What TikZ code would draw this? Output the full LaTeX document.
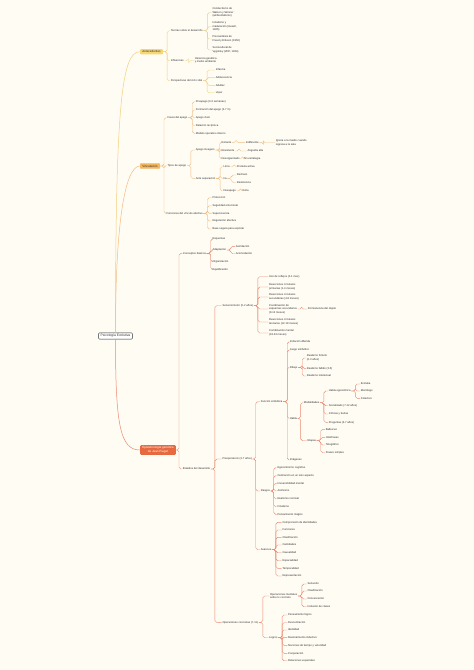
\documentclass[tikz,border=0pt]{standalone}
\usepackage{fontspec}
\setmainfont{Liberation Sans}
\usepackage{tikz}
\usetikzlibrary{arrows.meta}

\definecolor{paper}{HTML}{FFFCF4}
\definecolor{ink}{HTML}{2E2E2E}
\definecolor{sunA}{HTML}{F7D774}
\definecolor{sunL}{HTML}{F2D07C}
\definecolor{ambA}{HTML}{F5B75E}
\definecolor{ambL}{HTML}{F2BC82}
\definecolor{redA}{HTML}{E6693F}
\definecolor{redL}{HTML}{EC8A70}

\tikzset{
  twig/.style={rounded corners=1.8pt, to path={-- ++(#1,0) |- (\tikztotarget)}},
  twig/.default=4pt,
  leaf/.style={anchor=west, inner sep=0.6pt, align=left, text=ink,
               font=\fontsize{2.7}{3.5}\selectfont},
  topic/.style={rounded corners=1pt, inner xsep=2.2pt, inner ysep=1.6pt,
                align=center, text=ink, font=\fontsize{3}{3.7}\selectfont},
}

\begin{document}
\begin{tikzpicture}[x=1pt,y=-1pt]
		\fill[paper] (0,0) rectangle (474,670);
		\useasboundingbox (0,0) rectangle (474,670);

		% centre and main topics
		\node[topic, draw=ink, fill=white, line width=0.5pt,
		      font=\fontsize{3.3}{4}\selectfont] (root) at (115.5,336) {Psicología Evolutiva};
		\node[topic, fill=sunA] (ant) at (151.5,51.7) {Antecedentes};
		\node[topic, fill=ambA, draw=ambL, line width=0.3pt] (vin) at (150,166) {Vinculación};
		\node[topic, fill=redA, text=white] (epi) at (158,450) {Epistemología genética\\de Jean Piaget};

		\draw[sunL, line width=0.5pt] (root.north) .. controls +(0,-230) and +(-18,0) .. (ant.west);
		\draw[ambL, line width=0.5pt] (root.north) .. controls +(0,-110) and +(-15,0) .. (vin.west);
		\draw[redL, line width=0.5pt] (root.south) .. controls +(0,85) and +(-20,0) .. (epi.west);

		% antecedentes
		\begin{scope}[every node/.style={leaf},
		              every edge/.style={draw=sunL, line width=0.4pt, twig}]
		    \node (a1) at (170,30.7) {Teorías sobre el desarrollo};
		    \node (a1x1) at (211.7,12.5) {Conductismo de\\Watson y Skinner\\(ambientalismo)};
		    \node (a1x2) at (211.7,26.5) {Innatismo y\\maduración (Gesell,\\1925)};
		    \node (a1x3) at (211.7,39) {Psicoanálisis de\\Freud y Erikson (1950)};
		    \node (a1x4) at (211.7,50) {Sociocultural de\\Vygotsky (ZDP, 1934)};
		    \node (a2) at (170,60.7) {Influencias};
		    \node (a2x1) at (194,60.5) {Herencia genética\\y medio ambiente};
		    \node (a3) at (170,80.7) {Perspectivas del ciclo vital};
		    \node (a3x1) at (215,70) {Infancia};
		    \node (a3x2) at (215,77.3) {Adolescencia};
		    \node (a3x3) at (215,85.3) {Adultez};
		    \node (a3x4) at (215,92.7) {Vejez};

		    \path (ant.east) edge (a1.west);
		    \path (ant.east) edge (a2.west);
		    \path (ant.east) edge (a3.west);
		    \path (a1.east) edge (a1x1.west);
		    \path (a1.east) edge (a1x2.west);
		    \path (a1.east) edge (a1x3.west);
		    \path (a1.east) edge (a1x4.west);
		    \path (a2.east) edge (a2x1.west);
		    \path (a3.east) edge (a3x1.west);
		    \path (a3.east) edge (a3x2.west);
		    \path (a3.east) edge (a3x3.west);
		    \path (a3.east) edge (a3x4.west);
		\end{scope}

		% vinculacion
		\begin{scope}[every node/.style={leaf},
		              every edge/.style={draw=ambL, line width=0.4pt, twig}]
		    \node (b1) at (166.7,117.7) {Fases del apego};
		    \node (b1x1) at (195,101.7) {Preapego (0-6 semanas)};
		    \node (b1x2) at (195,110) {Formación del apego (2-7 m)};
		    \node (b1x3) at (195,117.7) {Apego claro};
		    \node (b1x4) at (195,125.7) {Relación recíproca};
		    \node (b1x5) at (195,133.3) {Modelo operativo interno};

		    \node (b2) at (166.7,165.7) {Tipos de apego};
		    \node (c1) at (195,150) {Apego inseguro};
		    \node (c1a) at (220.7,142.3) {Evitante};
		    \node (c1a1) at (245,142.3) {Indiferente};
		    \node (c1a2) at (275,142.7) {Ignora a la madre cuando\\regresa a la sala};
		    \node (c1b) at (220.7,151) {Resistente};
		    \node (c1b1) at (246.7,151) {Angustia alta};
		    \node (c1c) at (220.7,158.7) {Desorganizado};
		    \node (c1c1) at (243,158.7) {Sin estrategia};
		    \node (c2) at (195,178.3) {Ante separación};
		    \node (c2a) at (222.7,166.7) {Llora};
		    \node (c2a1) at (236,166.7) {Protesta activa};
		    \node (c2b) at (222.7,178.3) {Ira};
		    \node (c2b1) at (236,175) {Rechazo};
		    \node (c2b2) at (236,182.7) {Resistencia};
		    \node (c2c) at (222.7,190.7) {Desapego};
		    \node (c2c1) at (241.7,190.7) {Evita};

		    \node (b3) at (165.7,213.3) {Funciones del vínculo afectivo};
		    \node (b3x1) at (211.7,197.7) {Protección};
		    \node (b3x2) at (211.7,205.7) {Seguridad emocional};
		    \node (b3x3) at (211.7,213.3) {Supervivencia};
		    \node (b3x4) at (211.7,221) {Regulación afectiva};
		    \node (b3x5) at (211.7,229) {Base segura para explorar};

		    \path (vin.east) edge (b1.west);
		    \path (vin.east) edge (b2.west);
		    \path (vin.east) edge (b3.west);
		    \path (b1.east) edge (b1x1.west);
		    \path (b1.east) edge (b1x2.west);
		    \path (b1.east) edge (b1x3.west);
		    \path (b1.east) edge (b1x4.west);
		    \path (b1.east) edge (b1x5.west);
		    \path (b2.east) edge (c1.west);
		    \path (b2.east) edge (c2.west);
		    \path (c1.east) edge (c1a.west);
		    \path (c1.east) edge (c1b.west);
		    \path (c1.east) edge (c1c.west);
		    \path (c1a.east) edge (c1a1.west);
		    \path (c1a1.east) edge (c1a2.west);
		    \path (c1b.east) edge (c1b1.west);
		    \path (c1c.east) edge[twig=2pt] (c1c1.west);
		    \path (c2.east) edge (c2a.west);
		    \path (c2.east) edge (c2b.west);
		    \path (c2.east) edge (c2c.west);
		    \path (c2a.east) edge (c2a1.west);
		    \path (c2b.east) edge (c2b1.west);
		    \path (c2b.east) edge (c2b2.west);
		    \path (c2c.east) edge (c2c1.west);
		    \path (b3.east) edge (b3x1.west);
		    \path (b3.east) edge (b3x2.west);
		    \path (b3.east) edge (b3x3.west);
		    \path (b3.east) edge (b3x4.west);
		    \path (b3.east) edge (b3x5.west);
		\end{scope}

		% piaget
		\begin{scope}[every node/.style={leaf},
		              every edge/.style={draw=redL, line width=0.4pt, twig}]
		    \node (d1) at (182.3,253.3) {Conceptos básicos};
		    \node (d1x1) at (211.7,239) {Esquemas};
		    \node (d1x2) at (211.7,250) {Adaptación};
		    \node (d1x2a) at (235,246.3) {Asimilación};
		    \node (d1x2b) at (235,253.7) {Acomodación};
		    \node (d1x3) at (211.7,261.7) {Organización};
		    \node (d1x4) at (211.7,269.3) {Equilibración};

		    \node (d2) at (182,469) {Estadios del desarrollo};

		    \node (e1) at (221.7,305.7) {Sensoriomotor (0-2 años)};
		    \node (e1x1) at (268.3,276.7) {Uso de reflejos (0-1 mes)};
		    \node (e1x2) at (268.3,287) {Reacciones circulares\\primarias (1-4 meses)};
		    \node (e1x3) at (268.3,297) {Reacciones circulares\\secundarias (4-8 meses)};
		    \node (e1x4) at (268.3,309) {Coordinación de\\esquemas secundarios\\(8-12 meses)};
		    \node (e1x4a) at (307,309) {Permanencia del objeto};
		    \node (e1x5) at (268.3,322) {Reacciones circulares\\terciarias (12-18 meses)};
		    \node (e1x6) at (268.3,333) {Combinación mental\\(18-24 meses)};

		    \node (e2) at (221.7,459) {Preoperatorio (2-7 años)};
		    \node (f1) at (260,401.7) {Función simbólica};
		    \node (f1x1) at (289,341.7) {Imitación diferida};
		    \node (f1x2) at (289,350) {Juego simbólico};
		    \node (f1x3) at (289,367.3) {Dibujo};
		    \node (f1x3a) at (306,358) {Realismo fortuito\\(2-3 años)};
		    \node (f1x3b) at (306,368.3) {Realismo fallido (3-5)};
		    \node (f1x3c) at (306,376) {Realismo intelectual};
		    \node (f1x4) at (289,418.3) {Habla};
		    \node (g1) at (303,402.7) {Modalidades};
		    \node (g1x1) at (328,391) {Habla egocéntrica};
		    \node (g1x1a) at (360,384) {Ecolalia};
		    \node (g1x1b) at (360,391) {Monólogo};
		    \node (g1x1c) at (360,398.3) {Colectivo};
		    \node (g1x2) at (328,405.7) {Socializado (7-12 años)};
		    \node (g1x3) at (328,414) {Críticas y burlas};
		    \node (g1x4) at (328,422.3) {Preguntas (4-7 años)};
		    \node (g2) at (306.7,440.7) {Etapas};
		    \node (g2x1) at (325,429.3) {Balbuceo};
		    \node (g2x2) at (325,437.3) {Holofrases};
		    \node (g2x3) at (325,445) {Telegráfico};
		    \node (g2x4) at (325,452.7) {Frases simples};
		    \node (f1x5) at (289,460) {Imágenes};

		    \node (f2) at (260,491) {Rasgos};
		    \node (f2x1) at (276.7,467.7) {Egocentrismo cognitivo};
		    \node (f2x2) at (276.7,475.7) {Centración en un solo aspecto};
		    \node (f2x3) at (276.7,483.3) {Irreversibilidad mental};
		    \node (f2x4) at (276.7,491) {Animismo};
		    \node (f2x5) at (276.7,498.7) {Realismo nominal};
		    \node (f2x6) at (276.7,506.7) {Finalismo};
		    \node (f2x7) at (276.7,514.3) {Pensamiento mágico};

		    \node (f3) at (260,549.7) {Avances};
		    \node (f3x1) at (281.7,522.3) {Comprensión de identidades};
		    \node (f3x2) at (281.7,530) {Funciones};
		    \node (f3x3) at (281.7,537.3) {Clasificación};
		    \node (f3x4) at (281.7,545) {Cantidades};
		    \node (f3x5) at (281.7,552.7) {Causalidad};
		    \node (f3x6) at (281.7,560.7) {Espacialidad};
		    \node (f3x7) at (281.7,568.3) {Temporalidad};
		    \node (f3x8) at (281.7,576) {Representación};

		    \node (e3) at (221.7,622.3) {Operaciones concretas (7-11)};
		    \node (h1) at (269.3,596) {Operaciones mentales\\sobre lo concreto};
		    \node (h1x1) at (306.7,584) {Seriación};
		    \node (h1x2) at (306.7,591) {Clasificación};
		    \node (h1x3) at (306.7,599) {Conservación};
		    \node (h1x4) at (306.7,606.7) {Inclusión de clases};
		    \node (h2) at (268.3,637.7) {Logros};
		    \node (h2x1) at (287.3,615) {Pensamiento lógico};
		    \node (h2x2) at (287.3,622.7) {Descentración};
		    \node (h2x3) at (287.3,630) {Identidad};
		    \node (h2x4) at (287.3,637.3) {Razonamiento inductivo};
		    \node (h2x5) at (287.3,645.3) {Nociones de tiempo y velocidad};
		    \node (h2x6) at (287.3,653.3) {Cooperación};
		    \node (h2x7) at (287.3,660.7) {Relaciones espaciales};

		    \path (epi.east) edge[twig=3pt] (d1.west);
		    \path (epi.east) edge[twig=3pt] (d2.west);
		    \path (d1.east) edge (d1x1.west);
		    \path (d1.east) edge (d1x2.west);
		    \path (d1.east) edge (d1x3.west);
		    \path (d1.east) edge (d1x4.west);
		    \path (d1x2.east) edge (d1x2a.west);
		    \path (d1x2.east) edge (d1x2b.west);
		    \path (d2.east) edge (e1.west);
		    \path (d2.east) edge (e2.west);
		    \path (d2.east) edge (e3.west);
		    \path (e1.east) edge (e1x1.west);
		    \path (e1.east) edge (e1x2.west);
		    \path (e1.east) edge (e1x3.west);
		    \path (e1.east) edge (e1x4.west);
		    \path (e1.east) edge (e1x5.west);
		    \path (e1.east) edge (e1x6.west);
		    \path (e1x4.east) edge (e1x4a.west);
		    \path (e2.east) edge[twig=3pt] (f1.west);
		    \path (e2.east) edge[twig=3pt] (f2.west);
		    \path (e2.east) edge[twig=3pt] (f3.west);
		    \path (f1.east) edge (f1x1.west);
		    \path (f1.east) edge (f1x2.west);
		    \path (f1.east) edge (f1x3.west);
		    \path (f1.east) edge (f1x4.west);
		    \path (f1.east) edge (f1x5.west);
		    \path (f1x3.east) edge (f1x3a.west);
		    \path (f1x3.east) edge (f1x3b.west);
		    \path (f1x3.east) edge (f1x3c.west);
		    \path (f1x4.east) edge[twig=3pt] (g1.west);
		    \path (f1x4.east) edge[twig=3pt] (g2.west);
		    \path (g1.east) edge (g1x1.west);
		    \path (g1.east) edge (g1x2.west);
		    \path (g1.east) edge (g1x3.west);
		    \path (g1.east) edge (g1x4.west);
		    \path (g1x1.east) edge (g1x1a.west);
		    \path (g1x1.east) edge (g1x1b.west);
		    \path (g1x1.east) edge (g1x1c.west);
		    \path (g2.east) edge (g2x1.west);
		    \path (g2.east) edge (g2x2.west);
		    \path (g2.east) edge (g2x3.west);
		    \path (g2.east) edge (g2x4.west);
		    \path (f2.east) edge[twig=3pt] (f2x1.west);
		    \path (f2.east) edge[twig=3pt] (f2x2.west);
		    \path (f2.east) edge[twig=3pt] (f2x3.west);
		    \path (f2.east) edge[twig=3pt] (f2x4.west);
		    \path (f2.east) edge[twig=3pt] (f2x5.west);
		    \path (f2.east) edge[twig=3pt] (f2x6.west);
		    \path (f2.east) edge[twig=3pt] (f2x7.west);
		    \path (f3.east) edge (f3x1.west);
		    \path (f3.east) edge (f3x2.west);
		    \path (f3.east) edge (f3x3.west);
		    \path (f3.east) edge (f3x4.west);
		    \path (f3.east) edge (f3x5.west);
		    \path (f3.east) edge (f3x6.west);
		    \path (f3.east) edge (f3x7.west);
		    \path (f3.east) edge (f3x8.west);
		    \path (e3.east) edge (h1.west);
		    \path (e3.east) edge (h2.west);
		    \path (h1.east) edge (h1x1.west);
		    \path (h1.east) edge (h1x2.west);
		    \path (h1.east) edge (h1x3.west);
		    \path (h1.east) edge (h1x4.west);
		    \path (h2.east) edge (h2x1.west);
		    \path (h2.east) edge (h2x2.west);
		    \path (h2.east) edge (h2x3.west);
		    \path (h2.east) edge (h2x4.west);
		    \path (h2.east) edge (h2x5.west);
		    \path (h2.east) edge (h2x6.west);
		    \path (h2.east) edge (h2x7.west);
		\end{scope}
\end{tikzpicture}
\end{document}
